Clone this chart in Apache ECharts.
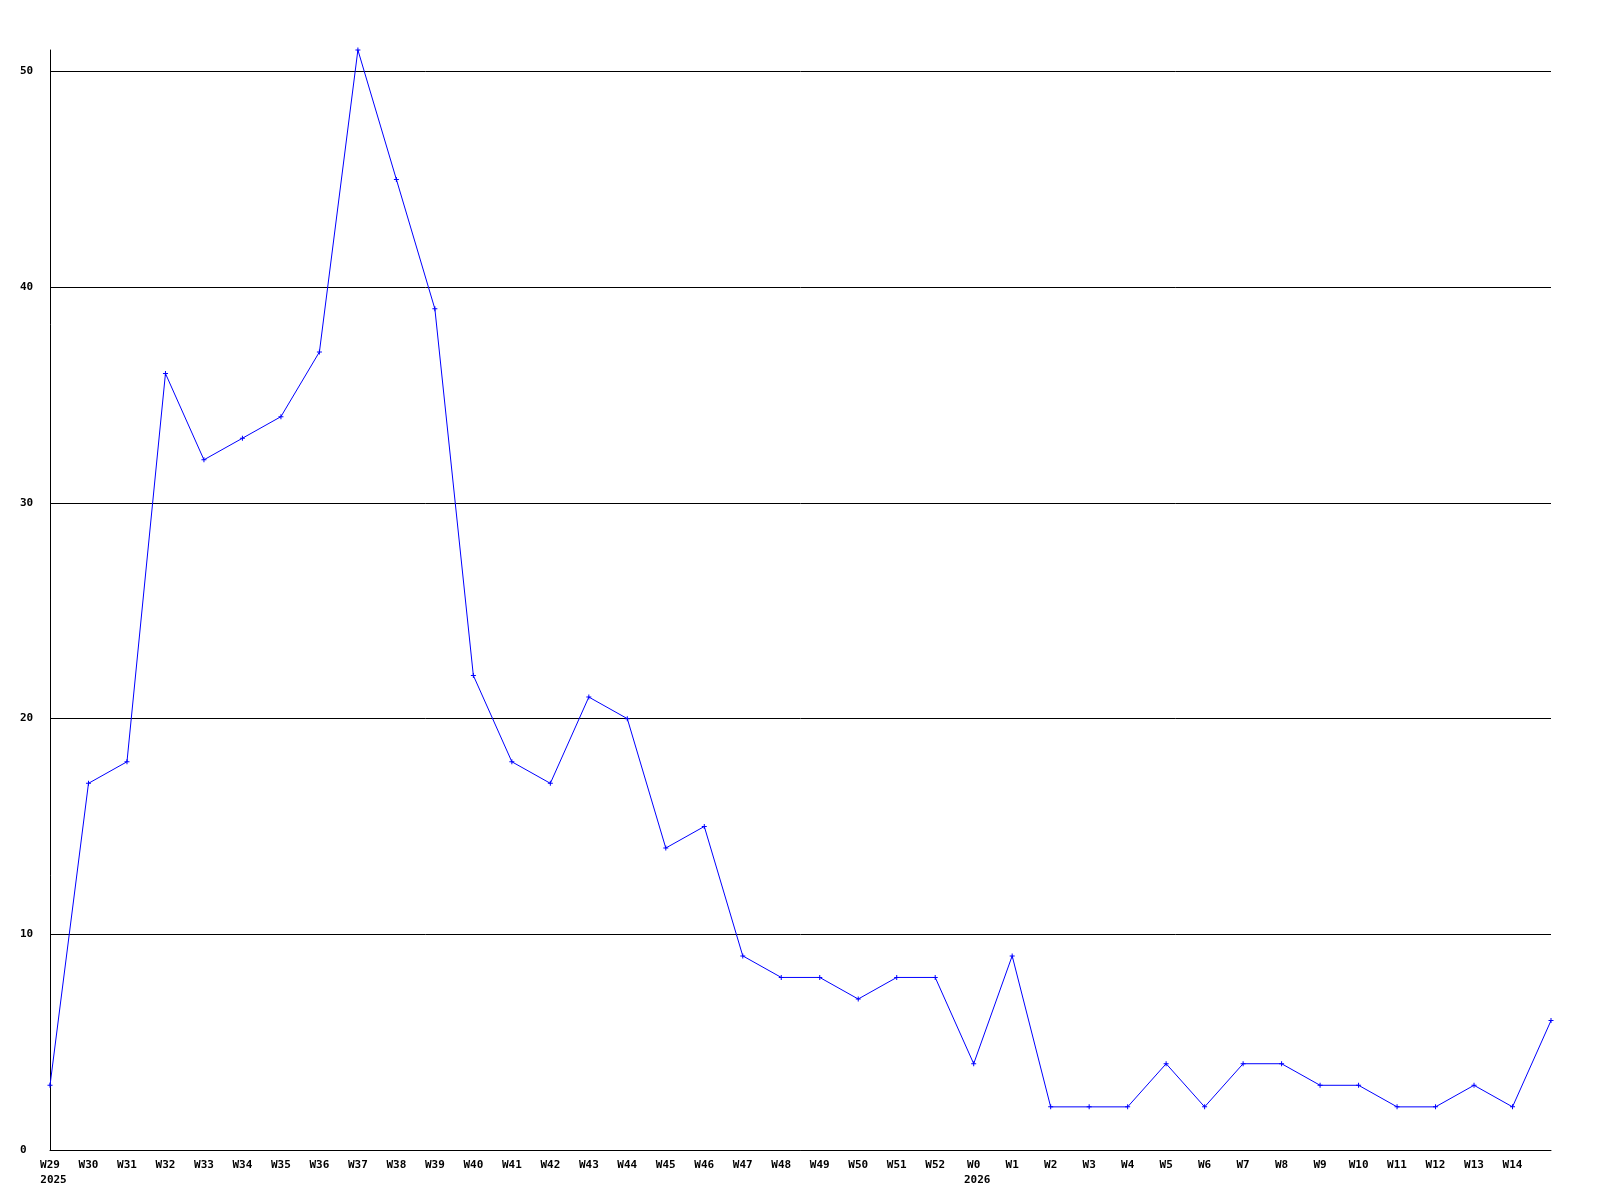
<!DOCTYPE html>
<html>
<head>
<meta charset="utf-8">
<script src="https://cdn.jsdelivr.net/npm/echarts@6/dist/echarts.min.js"></script>
<style>html,body{margin:0;padding:0;background:#fff;}#c{width:1600px;height:1200px;}</style>
</head>
<body>
<div id="c"></div>
<script>
const weeks = ['W29','W30','W31','W32','W33','W34','W35','W36','W37','W38','W39','W40','W41','W42','W43','W44','W45','W46','W47','W48','W49','W50','W51','W52','W0','W1','W2','W3','W4','W5','W6','W7','W8','W9','W10','W11','W12','W13','W14','W15'];
const yearMarks = {W29: '2025', W0: '2026'};
const hiddenLabels = ['W15'];
const values = [3,17,18,36,32,33,34,37,51,45,39,22,18,17,21,20,14,15,9,8,8,7,8,8,4,9,2,2,2,4,2,4,4,3,3,2,2,3,2,6];
const yMax = 51;

const font = 'DejaVu Sans Mono';
const chart = echarts.init(document.getElementById('c'), null, {renderer: 'canvas'});
chart.setOption({
  backgroundColor: '#ffffff',
  animation: false,
  grid: {left: 50, right: 49, top: 50, bottom: 50, containLabel: false},
  xAxis: {
    type: 'category',
    data: weeks,
    boundaryGap: false,
    axisLine: {show: true, lineStyle: {color: '#000', width: 1}},
    axisTick: {show: false},
    splitLine: {show: false},
    axisLabel: {
      interval: 0,
      margin: 8,
      color: '#000',
      fontFamily: font,
      fontWeight: 'bold',
      fontSize: 11,
      lineHeight: 15,
      rich: {
        wk: {fontFamily: font, fontWeight: 'bold', fontSize: 11, color: '#000', lineHeight: 15},
        yr: {fontFamily: font, fontWeight: 'bold', fontSize: 11, color: '#000', lineHeight: 15, padding: [0, 0, 0, 7]}
      },
      formatter: function (v) {
        if (hiddenLabels.indexOf(v) >= 0) return '';
        return yearMarks[v] ? '{wk|' + v + '}\n{yr|' + yearMarks[v] + '}' : v;
      }
    }
  },
  yAxis: {
    type: 'value',
    min: 0,
    max: yMax,
    interval: 10,
    axisLine: {show: true, lineStyle: {color: '#000', width: 1}},
    axisTick: {show: false},
    splitLine: {show: true, showMaxLine: false, lineStyle: {color: '#000', width: 1}},
    axisLabel: {
      align: 'left',
      margin: 30,
      color: '#000',
      fontFamily: font,
      fontWeight: 'bold',
      fontSize: 11,
      showMaxLabel: false
    }
  },
  series: [{
    type: 'line',
    data: values,
    symbol: 'path://M2,0L3,0L3,2L5,2L5,3L3,3L3,5L2,5L2,3L0,3L0,2L2,2Z',
    symbolSize: 5,
    showAllSymbol: true,
    itemStyle: {color: '#0000ff'},
    lineStyle: {color: '#0000ff', width: 1},
    clip: false
  }]
});
</script>
</body>
</html>
